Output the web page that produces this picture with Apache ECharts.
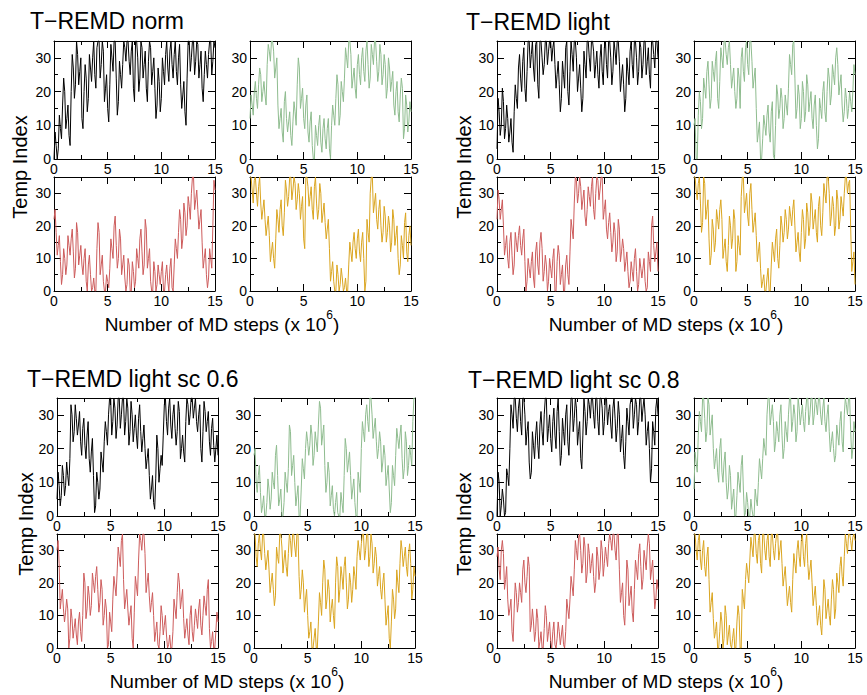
<!DOCTYPE html>
<html>
<head>
<meta charset="utf-8">
<script src="https://cdn.jsdelivr.net/npm/echarts@6/dist/echarts.min.js"></script>
<style>
  html, body { margin: 0; padding: 0; background: #fff; }
  #chart { width: 867px; height: 695px; }
</style>
</head>
<body>
<div id="chart"></div>
<script>
// temperature index of 4 replicas, read every 0.1 x 10^6 MD steps (0 .. 15)
const normBlack = [
  0,8, 4,0, 3,13, 9,6, 16,24, 20,9, 12,16, 7,4, 20,31, 27,18,
  22,35, 31,22, 26,30, 12,9, 20,28, 24,14, 18,31, 27,23, 30,35, 25,21,
  33,35, 35,24, 28,35, 32,17, 21,25, 15,11, 22,34, 30,26, 35,35, 24,13,
  17,29, 25,21, 28,35, 33,29, 35,35, 29,25, 32,35, 21,17, 35,35, 30,20,
  24,35, 33,24, 28,32, 21,17, 29,35, 33,22, 26,30, 21,12, 16,27, 23,14,
  18,30, 26,22, 31,35, 27,23, 32,35, 28,24, 31,35, 26,22, 30,34, 22,15,
  19,23, 14,10, 24,35, 35,26, 30,35, 35,25, 29,35, 34,24, 28,32, 21,17,
  25,32, 28,24, 31,35, 35,25, 29,35, 33]
const normGreen = [
  12,19, 16,13, 20,23, 18,15, 22,27, 25,17, 20,23, 19,16, 28,34, 32,29,
  35,35, 32,24, 27,30, 16,9, 12,15, 8,5, 17,20, 12,8, 11,14, 7,4,
  11,17, 14,10, 22,30, 27,15, 18,21, 12,9, 16,19, 8,5, 11,14, 4,0,
  0,10, 7,4, 10,13, 5,2, 9,12, 6,3, 9,12, 3,0, 10,16, 13,10,
  18,25, 22,10, 13,23, 20,17, 24,33, 30,27, 35,35, 31,21, 24,27, 21,18,
  28,31, 25,22, 30,33, 26,23, 32,35, 28,21, 24,34, 31,28, 35,35, 29,23,
  26,34, 31,22, 25,31, 28,18, 21,30, 27,20, 23,26, 16,13, 20,23, 14,11,
  19,24, 21,6, 9,19, 16,8, 11,17, 14]
const normRed = [
  22,25, 18,11, 14,17, 9,2, 5,13, 10,5, 8,17, 14,11, 16,19, 12,4,
  7,21, 18,8, 11,14, 8,5, 10,13, 3,0, 8,11, 5,0, 1,4, 0,0,
  13,21, 18,5, 8,11, 3,0, 0,5, 3,1, 7,16, 13,10, 20,23, 14,7,
  10,19, 16,5, 8,11, 4,0, 2,10, 8,0, 0,9, 6,1, 3,13, 10,7,
  16,19, 12,5, 8,22, 19,7, 10,13, 3,0, 0,9, 6,0, 2,8, 5,2,
  6,9, 0,0, 5,8, 3,0, 7,10, 1,0, 8,16, 13,10, 18,25, 22,13,
  16,27, 24,17, 20,29, 26,22, 30,35, 35,25, 28,31, 25,19, 22,25, 15,7,
  10,13, 5,1, 4,13, 10,7, 20,34, 31]
const normGold = [
  35,35, 31,27, 34,35, 30,26, 32,35, 27,22, 25,28, 22,17, 20,23, 17,9,
  12,15, 10,7, 16,25, 22,18, 25,28, 20,17, 24,34, 31,26, 29,35, 35,28,
  31,35, 33,25, 28,33, 30,22, 26,29, 16,13, 35,35, 32,26, 29,32, 25,22,
  32,35, 27,22, 25,33, 30,21, 24,27, 21,16, 19,22, 13,3, 6,9, 3,0,
  0,8, 5,0, 2,7, 4,0, 1,4, 0,0, 8,15, 12,9, 15,18, 13,10,
  16,19, 12,9, 15,18, 10,0, 3,22, 18,15, 30,35, 35,24, 27,30, 22,19,
  25,28, 20,15, 18,26, 23,15, 18,23, 20,12, 15,25, 22,14, 17,20, 10,5,
  8,17, 14,10, 21,24, 12,9, 17,20, 14]

const lightBlack = [
  3,18, 14,7, 10,21, 17,6, 9,16, 12,5, 8,12, 5,2, 14,22, 18,15,
  27,31, 24,20, 29,33, 21,17, 26,35, 35,27, 31,35, 27,23, 34,35, 22,18,
  35,35, 30,25, 28,35, 35,28, 32,35, 35,29, 33,35, 28,21, 25,29, 22,14,
  18,29, 25,21, 33,35, 20,16, 26,35, 31,26, 35,35, 30,20, 24,28, 21,14,
  18,32, 28,24, 35,35, 30,26, 35,35, 32,24, 28,32, 25,21, 30,34, 26,22,
  33,35, 28,24, 35,35, 30,22, 26,35, 32,28, 35,35, 29,20, 24,28, 22,14,
  18,30, 26,22, 32,35, 28,24, 35,35, 30,22, 26,35, 33,24, 28,35, 35,25,
  29,33, 25,21, 35,35, 31,27, 35,35, 30]
const lightGreen = [
  10,12, 0,0, 13,20, 17,9, 12,24, 21,18, 26,29, 22,15, 18,29, 26,23,
  29,32, 18,15, 23,33, 30,27, 35,35, 31,28, 33,35, 28,21, 24,27, 20,15,
  18,27, 24,15, 30,33, 26,23, 33,35, 28,25, 35,35, 29,21, 24,27, 15,5,
  8,11, 0,0, 6,13, 10,7, 13,16, 8,5, 14,17, 1,0, 10,22, 19,12,
  15,21, 18,9, 12,19, 16,13, 21,31, 28,25, 34,35, 24,12, 15,22, 19,9,
  12,23, 20,11, 14,25, 22,14, 17,20, 12,9, 16,19, 10,3, 6,18, 15,12,
  20,23, 14,11, 20,27, 24,16, 19,28, 25,22, 30,33, 28,19, 22,25, 16,11,
  14,21, 18,12, 15,20, 17,14, 20,28, 25]
const lightRed = [
  22,31, 28,22, 25,28, 20,11, 14,17, 10,7, 15,18, 11,5, 8,18, 15,12,
  17,20, 14,11, 16,19, 9,0, 3,10, 7,4, 9,12, 4,1, 12,15, 8,5,
  15,18, 13,3, 6,11, 8,0, 3,10, 7,4, 10,13, 0,0, 9,14, 11,2,
  5,8, 0,0, 8,11, 5,2, 12,22, 19,16, 27,35, 34,27, 30,35, 32,25,
  28,31, 23,20, 25,32, 29,26, 32,35, 25,22, 30,35, 34,28, 31,35, 35,22,
  25,28, 19,16, 21,24, 18,12, 15,21, 18,9, 12,22, 19,9, 12,16, 13,6,
  9,12, 6,1, 3,9, 6,3, 10,13, 6,0, 2,10, 7,4, 7,10, 3,0,
  1,12, 9,6, 20,23, 14,9, 12,15, 6]
const lightGold = [
  35,35, 31,28, 33,35, 27,18, 21,35, 33,22, 25,28, 16,8, 11,22, 19,12,
  15,25, 22,19, 25,28, 22,10, 13,16, 9,6, 14,23, 20,13, 16,25, 22,6,
  9,17, 14,11, 29,35, 35,24, 27,30, 23,20, 30,33, 25,18, 21,24, 17,9,
  12,15, 7,1, 3,5, 0,0, 4,7, 0,0, 8,15, 12,9, 16,19, 10,7,
  14,23, 20,15, 18,25, 22,16, 19,26, 23,20, 25,28, 20,12, 15,18, 12,9,
  18,25, 22,13, 16,27, 24,17, 20,30, 27,19, 22,25, 18,15, 26,29, 20,17,
  24,33, 30,27, 35,35, 30,20, 23,29, 26,17, 20,31, 28,19, 22,29, 26,23,
  30,35, 35,30, 33,34, 19,6, 9,12, 2]

const sc06Black = [
  5,13, 9,3, 6,15, 12,6, 9,16, 12,9, 17,33, 30,22, 25,33, 29,24,
  27,31, 22,18, 26,29, 21,17, 24,28, 17,13, 19,23, 12,1, 3,13, 10,5,
  8,19, 16,13, 22,28, 25,21, 30,35, 35,24, 28,35, 32,23, 27,35, 35,26,
  30,35, 35,24, 28,35, 32,21, 25,34, 30,22, 26,30, 24,20, 29,33, 25,19,
  23,27, 20,14, 17,20, 12,5, 8,12, 4,2, 11,24, 20,10, 14,18, 15,24,
  33,35, 28,24, 32,35, 27,23, 30,33, 26,21, 25,34, 31,17, 20,24, 19,16,
  28,35, 33,27, 30,35, 35,29, 32,35, 28,25, 30,33, 20,16, 25,34, 31,25,
  28,31, 22,18, 26,29, 21,16, 20,24, 18]
const sc06Green = [
  18,20, 10,7, 12,15, 7,1, 3,6, 0,0, 4,11, 8,2, 5,13, 10,8,
  18,21, 12,3, 5,8, 0,0, 4,13, 10,7, 14,27, 25,12, 15,18, 10,3,
  6,9, 0,0, 8,17, 14,11, 20,25, 22,18, 21,27, 24,15, 18,25, 22,19,
  27,34, 32,21, 24,27, 15,7, 10,16, 13,3, 6,9, 2,0, 4,7, 1,0,
  0,7, 4,1, 12,23, 20,13, 16,19, 12,5, 8,11, 4,0, 0,13, 10,7,
  20,28, 25,22, 30,33, 28,25, 35,35, 30,23, 26,29, 22,17, 20,25, 22,13,
  16,21, 18,9, 12,15, 8,1, 4,15, 12,9, 18,26, 23,20, 24,27, 17,11,
  14,25, 22,12, 15,21, 18,15, 28,35, 35]
const sc06Red = [
  30,33, 26,12, 15,18, 12,8, 11,15, 12,0, 3,12, 9,3, 6,9, 4,1,
  8,11, 5,2, 10,23, 20,9, 12,19, 16,10, 13,23, 20,17, 22,25, 18,11,
  14,21, 18,7, 10,15, 12,0, 1,11, 8,5, 15,22, 19,16, 23,31, 28,25,
  33,35, 21,12, 15,18, 12,7, 10,13, 3,0, 11,22, 19,16, 27,35, 33,30,
  35,35, 29,17, 20,23, 16,11, 14,17, 10,2, 5,8, 1,0, 5,13, 10,4,
  7,10, 4,0, 1,4, 0,0, 5,15, 12,9, 17,23, 20,12, 15,18, 9,3,
  6,9, 4,1, 10,13, 5,2, 7,12, 9,6, 12,15, 7,4, 10,16, 13,10,
  18,21, 6,0, 2,5, 0,0, 5,11, 8]
const sc06Gold = [
  35,35, 28,25, 32,35, 30,27, 35,35, 29,24, 27,30, 24,17, 20,23, 18,13,
  16,31, 28,26, 35,35, 31,23, 27,30, 25,22, 29,35, 33,28, 35,35, 31,28,
  35,35, 22,15, 18,24, 20,11, 15,18, 10,3, 5,8, 0,0, 3,6, 0,0,
  8,17, 14,10, 20,27, 24,12, 15,21, 18,8, 12,15, 10,6, 20,28, 25,14,
  18,25, 22,18, 25,28, 20,12, 15,23, 20,14, 18,25, 22,18, 28,33, 30,27,
  32,35, 35,27, 30,35, 35,25, 28,35, 32,23, 26,31, 28,19, 22,25, 18,15,
  20,23, 15,7, 10,13, 3,0, 8,18, 15,9, 12,24, 20,17, 26,33, 30,25,
  28,31, 25,22, 29,32, 26,15, 18,25, 22]

const sc08Black = [
  0,13, 10,0, 3,8, 5,0, 1,14, 12,9, 20,33, 30,26, 35,35, 29,25,
  32,35, 28,24, 35,35, 30,21, 25,28, 16,11, 13,25, 21,17, 24,28, 21,17,
  27,31, 25,21, 30,35, 35,22, 26,30, 23,19, 28,32, 24,20, 31,35, 25,15,
  18,29, 25,21, 30,33, 22,18, 27,35, 35,25, 29,35, 32,21, 25,28, 17,14,
  24,35, 31,24, 28,35, 33,29, 35,35, 30,26, 35,35, 28,24, 35,35, 32,24,
  28,35, 35,27, 31,33, 27,23, 32,35, 29,22, 26,34, 30,19, 23,27, 18,14,
  22,32, 28,24, 33,35, 35,26, 30,35, 33,24, 28,35, 35,28, 32,35, 30,21,
  25,28, 20,10, 14,28, 25,21, 32,35, 30]
const sc08Green = [
  8,19, 16,13, 24,31, 28,25, 35,35, 29,22, 25,35, 33,24, 27,30, 20,14,
  17,20, 13,10, 20,23, 13,10, 16,19, 10,5, 8,15, 12,2, 5,8, 0,0,
  6,13, 10,7, 15,18, 8,0, 1,7, 4,0, 0,5, 2,0, 0,8, 5,3,
  10,17, 14,11, 17,23, 20,18, 30,35, 35,27, 30,33, 28,19, 22,28, 25,22,
  30,33, 24,17, 20,28, 25,22, 30,35, 35,25, 28,33, 30,22, 25,35, 32,27,
  30,33, 28,25, 31,35, 35,27, 30,35, 35,27, 30,35, 33,30, 35,35, 30,27,
  32,35, 28,25, 30,33, 25,19, 22,25, 20,16, 18,27, 24,21, 28,31, 22,19,
  30,35, 33,30, 35,35, 25,17, 20,28, 25]
const sc08Red = [
  28,31, 24,21, 30,33, 29,18, 21,25, 15,10, 12,15, 5,2, 12,20, 17,11,
  14,20, 17,14, 24,27, 20,17, 22,28, 25,5, 7,12, 8,2, 5,12, 9,0,
  2,5, 0,0, 6,13, 10,2, 5,8, 2,0, 5,8, 1,0, 3,8, 5,1,
  4,7, 1,0, 5,15, 12,9, 15,22, 19,16, 24,33, 30,27, 34,35, 30,23,
  26,34, 31,20, 23,32, 29,23, 26,29, 22,17, 20,31, 28,21, 24,33, 30,22,
  26,31, 28,25, 32,35, 33,30, 35,35, 30,27, 35,35, 24,14, 17,20, 10,7,
  16,27, 24,13, 16,19, 11,8, 18,27, 24,21, 29,32, 25,18, 21,30, 27,24,
  31,35, 32,21, 24,27, 19,12, 15,21, 18]
const sc08Gold = [
  35,35, 30,27, 33,35, 27,24, 30,33, 25,22, 28,31, 21,11, 14,17, 9,3,
  5,8, 0,0, 5,11, 8,0, 3,13, 10,1, 4,7, 1,0, 3,6, 0,0,
  8,13, 10,0, 0,18, 15,12, 21,26, 23,20, 27,34, 31,28, 35,35, 29,26,
  33,35, 26,23, 35,35, 30,27, 33,35, 28,25, 35,35, 30,27, 32,35, 35,27,
  30,33, 26,19, 22,25, 19,13, 16,19, 14,11, 21,29, 26,23, 30,33, 28,25,
  33,35, 28,25, 32,35, 26,21, 24,27, 20,13, 16,19, 13,7, 10,13, 7,4,
  12,21, 18,9, 12,15, 10,7, 15,21, 18,9, 12,23, 20,17, 25,28, 22,19,
  28,35, 32,29, 35,35, 33,30, 34,35, 33]

const X_MAX = 15
const xTicks = [0, 5, 10, 15]
const yTicks = [0, 10, 20, 30]
const titles = ['T−REMD norm', 'T−REMD light', 'T−REMD light sc 0.6', 'T−REMD light sc 0.8']
const traces = [
  [normBlack, normGreen, normRed, normGold],
  [lightBlack, lightGreen, lightRed, lightGold],
  [sc06Black, sc06Green, sc06Red, sc06Gold],
  [sc08Black, sc08Green, sc08Red, sc08Gold]
]
const colors = ['#000000', '#8fbc8f', '#cd5c5c', '#daa520']

// pixel layout of each block of 2x2 plots
const layout = [
  { cols: [54, 250], rows: [41, 177], title: [30, 21], yName: [20, 167], xName: [222, 324] },
  { cols: [497, 694], rows: [41, 177], title: [466, 22], yName: [464, 167], xName: [666, 324] },
  { cols: [57, 254], rows: [398, 534], title: [27, 379], yName: [26, 524], xName: [227, 681] },
  { cols: [497, 694], rows: [398, 534], title: [468, 380], yName: [464, 524], xName: [666, 681] }
]
const plotW = 161
const rowH = [118, 114]
const FONT = '"Liberation Sans", Arial, Helvetica, sans-serif'
const black = { color: '#000', width: 1 }

const grids = [], xAxes = [], yAxes = [], series = [], graphics = []

traces.forEach((block, pi) => {
  const L = layout[pi]
  block.forEach((vals, k) => {
    const row = k >> 1, col = k & 1
    const gi = grids.length
    grids.push({
      left: L.cols[col], top: L.rows[row], width: plotW, height: rowH[row],
      containLabel: false, outerBoundsMode: 'none'
    })

    const xi = xAxes.length
    ;['bottom', 'top'].forEach(pos => {
      xAxes.push({
        type: 'value', gridIndex: gi, position: pos, min: 0, max: X_MAX, interval: 5,
        axisLine: { onZero: false, lineStyle: black },
        axisTick: { inside: true, length: 7, lineStyle: black },
        minorTick: { show: true, splitNumber: 2, length: 4, lineStyle: black },
        splitLine: { show: false },
        minorSplitLine: { show: false },
        axisLabel: {
          show: pos === 'bottom', margin: 3, fontSize: 14, fontFamily: FONT, color: '#000',
          formatter: v => xTicks.includes(v) ? String(v) : ''
        }
      })
    })

    const yi = yAxes.length
    ;['left', 'right'].forEach(pos => {
      // major ticks with labels
      yAxes.push({
        type: 'value', gridIndex: gi, position: pos, min: 0, max: 35, interval: 10,
        axisLine: { show: true, onZero: false, lineStyle: black },
        axisTick: { inside: true, length: 7, lineStyle: black },
        splitLine: { show: false },
        axisLabel: {
          show: pos === 'left', margin: 3, fontSize: 14, fontFamily: FONT, color: '#000',
          formatter: v => yTicks.includes(v) ? String(v) : ''
        }
      })
      // minor ticks
      yAxes.push({
        type: 'value', gridIndex: gi, position: pos, min: 0, max: 35, interval: 5,
        axisLine: { show: false, onZero: false },
        axisTick: { inside: true, length: 4, lineStyle: black },
        splitLine: { show: false },
        axisLabel: { show: false }
      })
    })

    const dx = X_MAX / (vals.length - 1)
    series.push({
      type: 'line', xAxisIndex: xi, yAxisIndex: yi,
      data: vals.map((v, i) => [i * dx, v]),
      showSymbol: false, symbol: 'none', clip: true, silent: true,
      lineStyle: { color: colors[k], width: 1 },
      itemStyle: { color: colors[k] }
    })
  })

  graphics.push({
    type: 'text', x: L.title[0], y: L.title[1], silent: true,
    style: {
      text: titles[pi], fontSize: 23, fontFamily: FONT, fill: '#000',
      align: 'left', textAlign: 'left', verticalAlign: 'middle', textVerticalAlign: 'middle'
    }
  })
  graphics.push({
    type: 'text', x: L.yName[0], y: L.yName[1], rotation: Math.PI / 2, silent: true,
    style: {
      text: 'Temp Index', fontSize: 20, fontFamily: FONT, fill: '#000',
      align: 'center', textAlign: 'center', verticalAlign: 'middle', textVerticalAlign: 'middle'
    }
  })
  graphics.push({
    type: 'text', x: L.xName[0], y: L.xName[1], silent: true,
    style: {
      text: 'Number of MD steps (x 10{sup|6})', fontSize: 19, lineHeight: 30,
      fontFamily: FONT, fill: '#000',
      align: 'center', textAlign: 'center', verticalAlign: 'middle', textVerticalAlign: 'middle',
      rich: { sup: { fontSize: 12, lineHeight: 12, verticalAlign: 'top', fontFamily: FONT, fill: '#000' } }
    }
  })
})

const myChart = echarts.init(document.getElementById('chart'), null, { renderer: 'svg' })
myChart.setOption({
  animation: false,
  backgroundColor: '#fff',
  grid: grids,
  xAxis: xAxes,
  yAxis: yAxes,
  series: series,
  graphic: graphics
})
</script>
</body>
</html>
